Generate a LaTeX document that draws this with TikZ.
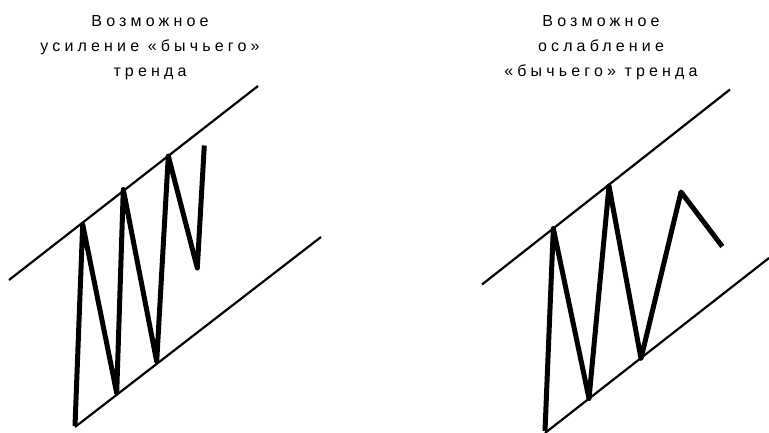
\documentclass[tikz,border=0pt]{standalone}
\usepackage{fontspec}
\setmainfont{Liberation Sans}[LetterSpace=26]
\begin{document}
\begin{tikzpicture}[x=1pt,y=-1pt,
  chan/.style={line width=2.2pt},
  price/.style={line width=5pt,line join=round,line cap=butt},
  title/.style={align=center,inner sep=0pt,anchor=north,font=\fontsize{16}{25}\selectfont}]
\useasboundingbox (0,0) rectangle (769,433);
% left panel
\node[title] (t1) at (150,15.5) {Возможное\\усиление «бычьего»\\тренда};
\coordinate (u1a) at (9,280);   \coordinate (u1b) at (258,86);
\coordinate (l1a) at (75,427);  \coordinate (l1b) at (321,237);
\draw[chan] (u1a) -- (u1b);
\draw[chan] (l1a) -- (l1b);
\coordinate (a0) at (75,426);
\coordinate (a1) at (82.7,224.5);
\coordinate (a2) at (116.7,393);
\coordinate (a3) at (123.3,189.5);
\coordinate (a4) at (156.7,361.5);
\coordinate (a5) at (168.3,156);
\coordinate (a6) at (197.3,268);
\coordinate (a7) at (204.3,145.5);
\draw[price] (a0) -- (a1) -- (a2) -- (a3) -- (a4) -- (a5) -- (a6) -- (a7);
% right panel
\node[title] (t2) at (601,15.5) {Возможное\\ослабление\\«бычьего» тренда};
\coordinate (u2a) at (482,284.5); \coordinate (u2b) at (730,89.5);
\coordinate (l2a) at (545,433);   \coordinate (l2b) at (769,258);
\draw[chan] (u2a) -- (u2b);
\draw[chan] (l2a) -- (l2b);
\coordinate (b0) at (545,431);
\coordinate (b1) at (553.3,228.5);
\coordinate (b2) at (589,398.5);
\coordinate (b3) at (609,186);
\coordinate (b4) at (641,358.5);
\coordinate (b5) at (681,192);
\coordinate (b6) at (722.3,246.5);
\draw[price] (b0) -- (b1) -- (b2) -- (b3) -- (b4) -- (b5) -- (b6);
\end{tikzpicture}
\end{document}
